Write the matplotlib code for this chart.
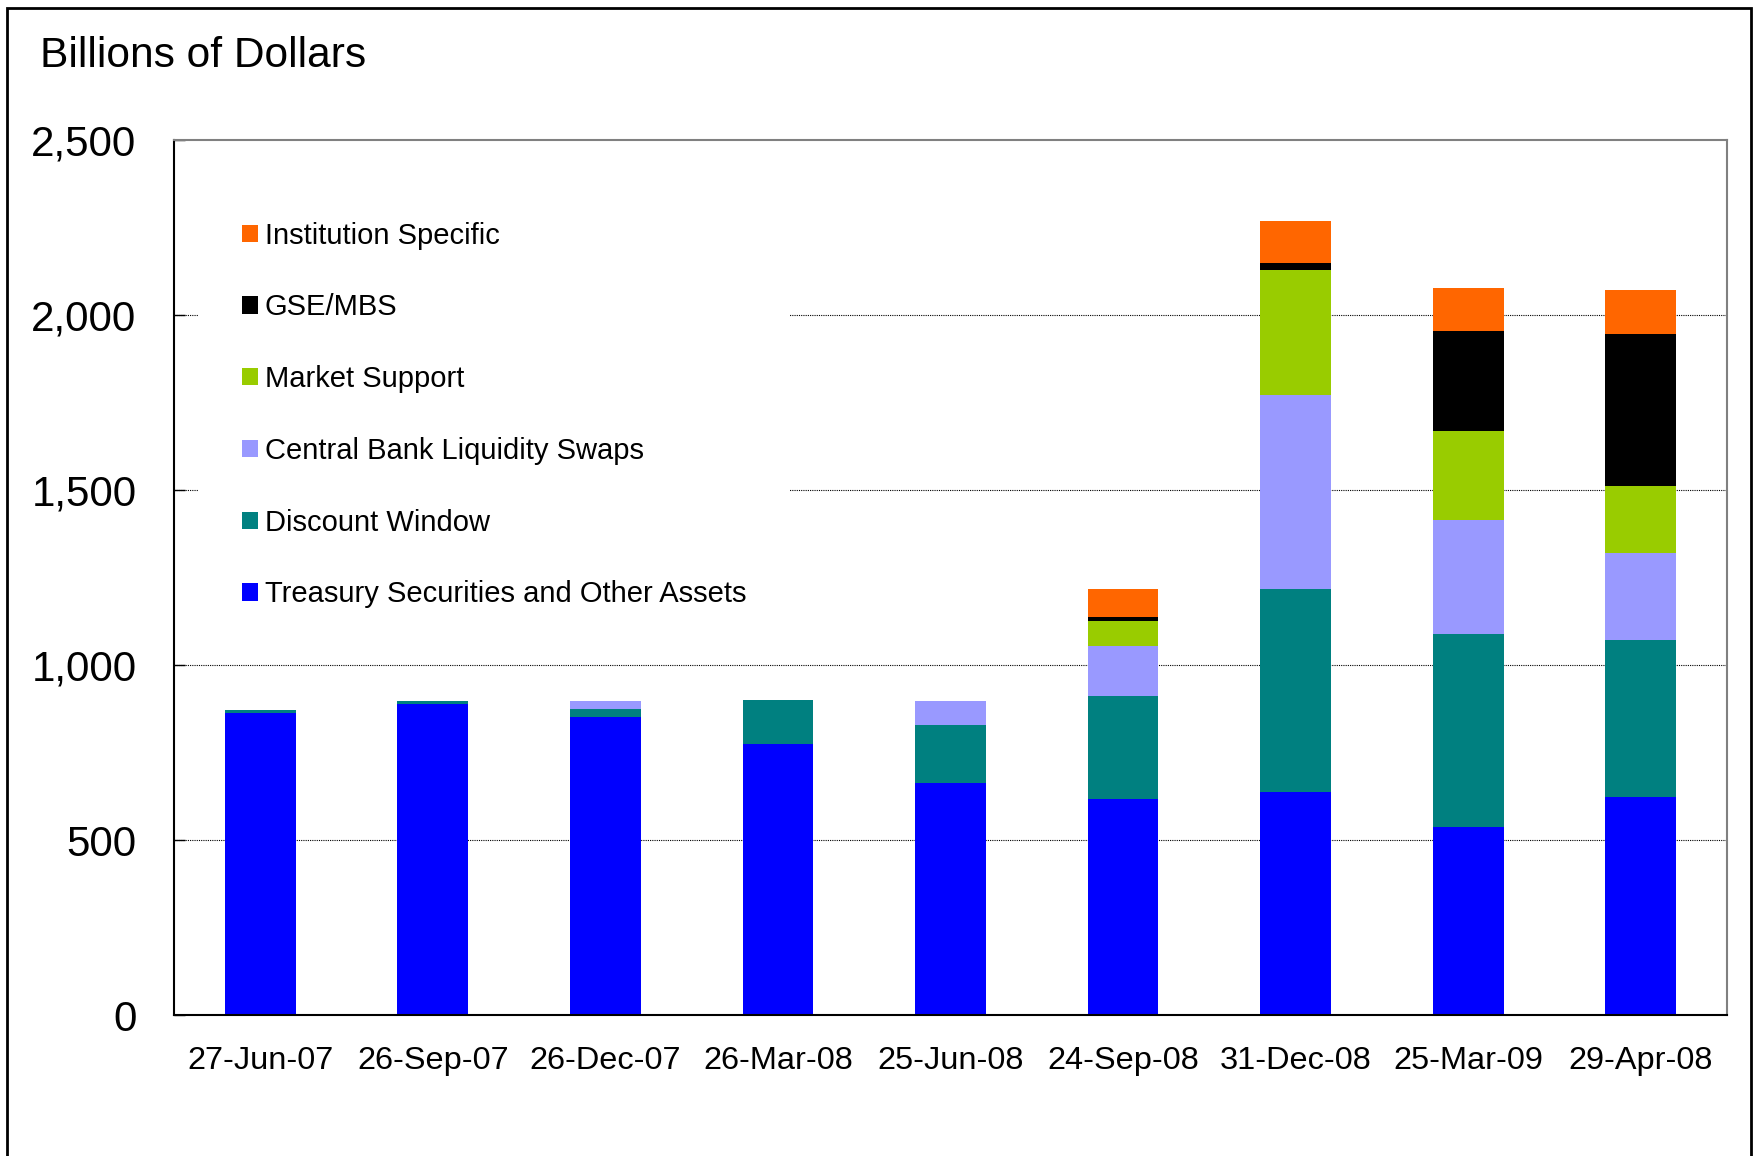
import matplotlib
matplotlib.use("Agg")
import matplotlib.pyplot as plt
from matplotlib.patches import Patch, Rectangle
import numpy as np

plt.rcParams["font.family"] = ["Liberation Sans", "DejaVu Sans"]

DATES = ["27-Jun-07", "26-Sep-07", "26-Dec-07", "26-Mar-08", "25-Jun-08",
         "24-Sep-08", "31-Dec-08", "25-Mar-09", "29-Apr-08"]

# billions of dollars
treasury = [865, 889, 852, 776, 664, 618, 638, 538, 623]
discount_window = [7, 9, 24, 124, 165, 294, 580, 551, 448]
cb_swaps = [0, 0, 22, 0, 69, 143, 554, 326, 250]
market_support = [0, 0, 0, 0, 0, 72, 357, 254, 192]
gse_mbs = [0, 0, 0, 0, 0, 12, 21, 285, 434]
institution = [0, 0, 0, 0, 0, 79, 119, 123, 125]

SERIES = [
    ("Treasury Securities and Other Assets", treasury, "#0000FF"),
    ("Discount Window", discount_window, "#008080"),
    ("Central Bank Liquidity Swaps", cb_swaps, "#9999FF"),
    ("Market Support", market_support, "#99CC00"),
    ("GSE/MBS", gse_mbs, "#000000"),
    ("Institution Specific", institution, "#FF6600"),
]

W, H = 1758, 1156
fig = plt.figure(figsize=(W / 100, H / 100), dpi=100)
fig.patch.set_facecolor("white")

# axes box in pixels: left 174, right 1727, top 140, bottom 1015
ax = fig.add_axes([174 / W, 1 - 1015.3 / H, (1727 - 174) / W, (1015.3 - 140.2) / H])

x = np.arange(len(DATES))
bottom = np.zeros(len(DATES))
for name, vals, color in SERIES:
    vals = np.array(vals, dtype=float)
    ax.bar(x, vals, width=0.41, bottom=bottom, color=color, linewidth=0, zorder=2)
    bottom += vals

ax.set_xlim(-0.5, len(DATES) - 0.5)
ax.set_ylim(0, 2500)
ax.set_yticks([0, 500, 1000, 1500, 2000, 2500])
ax.set_yticklabels(["0", "500", "1,000", "1,500", "2,000", "2,500"])
ax.set_xticks(x)
ax.set_xticklabels(DATES)

ax.tick_params(axis="y", direction="in", length=8, width=1, labelsize=30.3, pad=27)
ax.tick_params(axis="x", length=0, labelsize=23.4, pad=22)

for y in [500, 1000, 1500, 2000]:
    ax.axhline(y, color="black", linewidth=0.8, linestyle=(0, (1, 1)), zorder=1)

ax.spines["left"].set_color("black")
ax.spines["bottom"].set_color("black")
ax.spines["top"].set_color("#808080")
ax.spines["right"].set_color("#808080")
for s in ax.spines.values():
    s.set_linewidth(1.5)

handles = [Patch(facecolor=c, edgecolor="none") for _, _, c in SERIES][::-1]
labels = [n for n, _, _ in SERIES][::-1]
leg = ax.legend(handles, labels, loc="upper left",
                bbox_to_anchor=(0.0155, 0.957), borderaxespad=0,
                fontsize=21, frameon=True, fancybox=False,
                borderpad=1.5, handlelength=0.54, handleheight=0.54,
                handletextpad=0.25, labelspacing=1.5)
leg.get_frame().set_facecolor("white")
leg.get_frame().set_edgecolor("none")
leg.get_frame().set_alpha(1)
leg.set_zorder(5)

fig.text(40 / W, 1 - 67 / H, "Billions of Dollars", fontsize=30.6,
         ha="left", va="baseline")

# outer frame around the whole chart (cut off at the bottom)
fig.patches.append(Rectangle((7.5 / W, -0.05), (1751 - 7.5) / W, 1.05 - 7.5 / H,
                             transform=fig.transFigure, fill=False,
                             edgecolor="black", linewidth=2))

fig.savefig("out.png", dpi=100, facecolor="white")
